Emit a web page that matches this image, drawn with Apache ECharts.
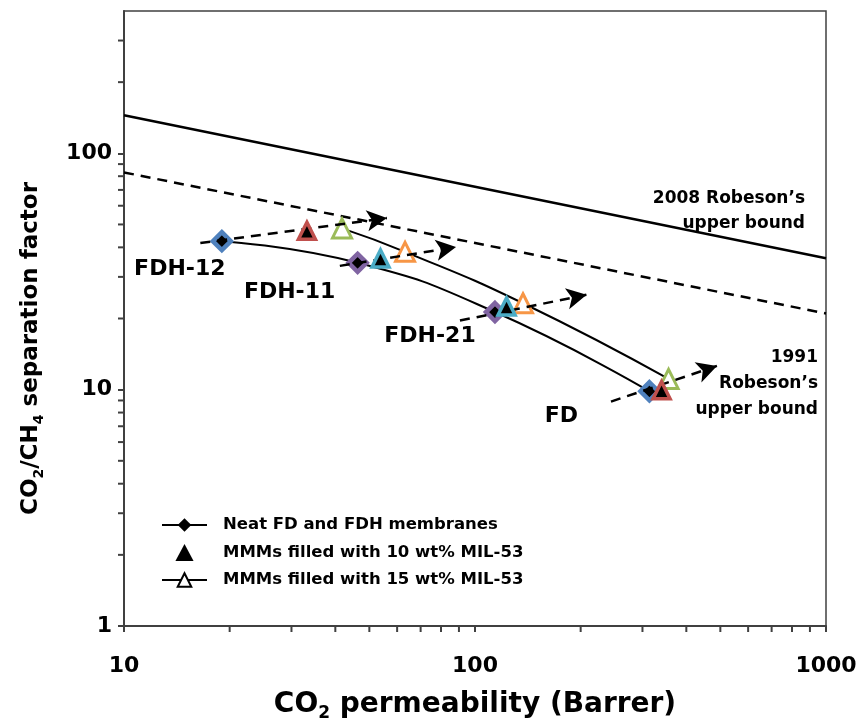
<!DOCTYPE html>
<html>
<head>
<meta charset="utf-8">
<script src="https://cdn.jsdelivr.net/npm/echarts@6/dist/echarts.min.js"></script>
<style>
  html, body { margin: 0; padding: 0; background: #fff; }
  #chart { width: 864px; height: 727px; }
</style>
</head>
<body>
<div id="chart"></div>
<script>
// Membranes, in order of increasing CO2 permeability
const membranes = ['FDH-12', 'FDH-11', 'FDH-21', 'FD'];

// Neat membranes: CO2 permeability (Barrer) and CO2/CH4 separation factor
const neatPerm = [19.0, 46.3, 114, 314];
const neatSel = [42.5, 34.4, 21.3, 9.84];

// Mixed matrix membranes with 10 wt% MIL-53
const mmm10Perm = [33.2, 53.8, 123, 340];
const mmm10Sel = [47.0, 35.9, 22.5, 9.94];

// Mixed matrix membranes with 15 wt% MIL-53
const mmm15Perm = [41.8, 63.2, 137, 356];
const mmm15Sel = [48.1, 38.3, 23.2, 11.1];

// Robeson upper bounds (end points of the straight log-log lines)
const robeson2008 = [[10, 145], [1000, 36]];
const robeson1991 = [[10, 83], [1000, 21]];

// Trend arrows for each membrane family: start and tip [permeability, selectivity]
const arrowStart = [[16.5, 41.7], [41.2, 33.4], [90.6, 19.6], [244, 8.9]];
const arrowEnd = [[56.1, 53.2], [88.3, 40.1], [208, 25.2], [489, 12.6]];

// Axis ticks
const xLabelValues = [10, 100, 1000];
const xMinorTicks = [20, 30, 40, 50, 60, 70, 80, 90, 200, 300, 400, 500, 600, 700, 800, 900];
const yMinorTicks = [2, 3, 4, 5, 6, 7, 8, 9, 20, 30, 40, 50, 60, 70, 80, 90, 200, 300];

// Legend entries
const legendNames = ['Neat FD and FDH membranes', 'MMMs filled with 10 wt% MIL-53', 'MMMs filled with 15 wt% MIL-53'];

// Marker colours per membrane
const neatColors = ['#4F81BD', '#8064A2', '#8064A2', '#4F81BD'];
const mmm10Colors = ['#C0504D', '#4BACC6', '#4BACC6', '#C0504D'];
const mmm15Colors = ['#9BBB59', '#F79646', '#F79646', '#9BBB59'];

// Offsets of the membrane name labels from their neat-membrane marker
const nameLabelOffsets = [[-42, 28], [-68, 29], [-65, 24], [-88, 25]];

const FONT = '"DejaVu Sans", "Liberation Sans", sans-serif';
const AXIS_COLOR = '#404040';

const boldText = (size) => ({ fontFamily: FONT, fontSize: size, fontWeight: 'bold', color: '#000' });

const neatData = membranes.map((m, i) => ({
  name: m,
  value: [neatPerm[i], neatSel[i]],
  itemStyle: { borderColor: neatColors[i], borderWidth: 4.5 },
  label: { offset: nameLabelOffsets[i] }
}));
const mmm10Data = membranes.map((m, i) => ({
  name: m,
  value: [mmm10Perm[i], mmm10Sel[i]],
  itemStyle: { borderColor: mmm10Colors[i], borderWidth: 3.5 }
}));
const mmm15Data = membranes.map((m, i) => ({
  name: m,
  value: [mmm15Perm[i], mmm15Sel[i]],
  itemStyle: { borderColor: mmm15Colors[i], borderWidth: 3 }
}));

// Short outward tick marks at the intermediate log values
function xTickRenderer(params, api) {
  const p = api.coord([api.value(0), 1]);
  return { type: 'line', shape: { x1: p[0], y1: p[1], x2: p[0], y2: p[1] + 6 },
           style: { stroke: AXIS_COLOR, lineWidth: 2 } };
}
function yTickRenderer(params, api) {
  const p = api.coord([10, api.value(1)]);
  return { type: 'line', shape: { x1: p[0], y1: p[1], x2: p[0] - 6, y2: p[1] },
           style: { stroke: AXIS_COLOR, lineWidth: 2 } };
}

const richTitle = (size, lineHeight) => ({
  b: { fontFamily: FONT, fontSize: size, fontWeight: 'bold', color: '#000', lineHeight: lineHeight },
  s: { fontFamily: FONT, fontSize: Math.round(size * 0.62), fontWeight: 'bold', color: '#000',
       lineHeight: Math.round(size * 0.55), verticalAlign: 'bottom' }
});

const chart = echarts.init(document.getElementById('chart'));

chart.setOption({
  animation: false,
  backgroundColor: '#fff',
  grid: { left: 124, right: 38, top: 11, bottom: 100, show: true,
          borderColor: AXIS_COLOR, borderWidth: 1.5 },
  xAxis: {
    type: 'log', logBase: 10, min: 10, max: 1000,
    axisLine: { show: true, onZero: false, lineStyle: { color: AXIS_COLOR, width: 2 } },
    axisTick: { show: true, length: 6, lineStyle: { color: AXIS_COLOR, width: 2 } },
    axisLabel: Object.assign(boldText(22), {
      margin: 29,
      formatter: (v) => (xLabelValues.indexOf(Math.round(v)) >= 0 ? String(Math.round(v)) : '')
    }),
    splitLine: { show: false },
    name: '{b|CO}{s|2}{b| permeability (Barrer)}',
    nameLocation: 'middle', nameGap: 62,
    nameTextStyle: { rich: richTitle(28, 34) }
  },
  yAxis: {
    type: 'log', logBase: 10, min: 1, max: 400,
    axisLine: { show: true, onZero: false, lineStyle: { color: AXIS_COLOR, width: 2 } },
    axisTick: { show: true, length: 6, lineStyle: { color: AXIS_COLOR, width: 2 } },
    axisLabel: Object.assign(boldText(22), { margin: 12, showMaxLabel: false }),
    splitLine: { show: false },
    name: '{b|CO}{s|2}{b|/CH}{s|4}{b| separation factor}',
    nameLocation: 'middle', nameGap: 78, nameRotate: 90,
    nameTextStyle: { rich: richTitle(23, 30), padding: [0, 60, 0, 0] }
  },
  legend: {
    orient: 'vertical', left: 156, top: 510,
    itemWidth: 45, itemHeight: 17, itemGap: 7.5,
    symbolKeepAspect: true,
    selectedMode: false,
    data: [
      { name: legendNames[0] },
      { name: legendNames[1], icon: 'path://M8,0L16,15L0,15Z' },
      { name: legendNames[2] }
    ],
    textStyle: Object.assign(boldText(16.5), { lineHeight: 20, padding: [0, 0, 0, 11] })
  },
  graphic: [
    { type: 'text', x: 805, y: 186, silent: true,
      style: { text: '2008 Robeson\u2019s\nupper bound', align: 'right', verticalAlign: 'top',
               lineHeight: 25, fill: '#000', font: 'bold 17px ' + FONT } },
    { type: 'text', x: 818, y: 345, silent: true,
      style: { text: '1991\nRobeson\u2019s\nupper bound', align: 'right', verticalAlign: 'top',
               lineHeight: 26, fill: '#000', font: 'bold 17px ' + FONT } }
  ],
  series: [
    {
      name: 'Robeson 2008', type: 'line', data: robeson2008, symbol: 'none', silent: true,
      lineStyle: { color: '#000', width: 2.5 }, z: 2
    },
    {
      name: 'Robeson 1991', type: 'line', data: robeson1991, symbol: 'none', silent: true,
      lineStyle: { color: '#000', width: 2.5, type: [10, 7] }, z: 2
    },
    {
      name: 'Trends', type: 'line', data: [], silent: true,
      markLine: {
        silent: true, symbol: ['none', 'arrow'], symbolSize: [16, 20],
        label: { show: false },
        lineStyle: { color: '#000', width: 2.5, type: [10, 7] },
        emphasis: { disabled: true },
        data: arrowStart.map((s, i) => [{ coord: s }, { coord: arrowEnd[i] }])
      },
      z: 3
    },
    {
      name: legendNames[0], type: 'line', smooth: true,
      data: neatData, symbol: 'diamond', symbolSize: 18,
      lineStyle: { color: '#000', width: 2 },
      itemStyle: { color: '#000', borderColor: '#000', borderWidth: 0 },
      label: Object.assign(boldText(22), { show: true, position: 'inside', formatter: (p) => p.name }),
      emphasis: { disabled: true }, z: 4
    },
    {
      name: legendNames[1], type: 'scatter',
      data: mmm10Data, symbol: 'triangle', symbolSize: 17,
      itemStyle: { color: '#000', borderColor: '#000', borderWidth: 0, opacity: 1 },
      emphasis: { disabled: true }, z: 5
    },
    {
      name: legendNames[2], type: 'line', smooth: true,
      data: mmm15Data, symbol: 'triangle', symbolSize: 19,
      lineStyle: { color: '#000', width: 2 },
      itemStyle: { color: '#fff', borderColor: '#000', borderWidth: 2 },
      emphasis: { disabled: true }, z: 4
    },
    {
      name: 'x ticks', type: 'custom', silent: true, clip: false,
      data: xMinorTicks.map((v) => [v, 1]), renderItem: xTickRenderer, z: 1
    },
    {
      name: 'y ticks', type: 'custom', silent: true, clip: false,
      data: yMinorTicks.map((v) => [10, v]), renderItem: yTickRenderer, z: 1
    }
  ]
});
</script>
</body>
</html>
